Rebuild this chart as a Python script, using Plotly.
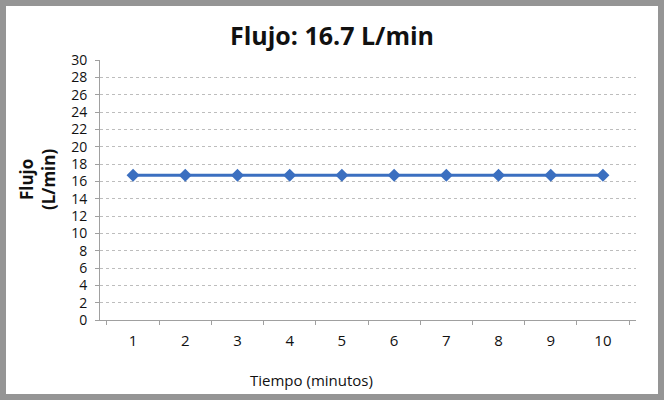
import plotly.graph_objects as go

tiempo = ["1", "2", "3", "4", "5", "6", "7", "8", "9", "10"]
flujo = [16.7, 16.7, 16.7, 16.7, 16.7, 16.7, 16.7, 16.7, 16.7, 16.7]
y_ticks = list(range(0, 31, 2))

L, R, T, B = 100, 28, 60, 80
W, H = 664, 400
pw, ph = W - L - R, H - T - B

fig = go.Figure()
fig.add_trace(go.Scatter(
    x=tiempo, y=flujo, mode="lines+markers",
    line=dict(color="#3b6fc0", width=3),
    marker=dict(symbol="diamond", size=10, color="#3b6fc0"),
    showlegend=False,
))

fig.add_shape(type="rect", xref="paper", yref="paper", layer="below",
              x0=(6 - L) / pw, x1=(W - 6 - L) / pw,
              y0=(T + ph - (H - 6)) / ph, y1=(T + ph - 6) / ph,
              fillcolor="white", line=dict(width=0))

font = "Open Sans, Liberation Sans, sans-serif"
fig.add_annotation(text="Tiempo (minutos)", xref="paper", yref="paper",
                   x=(311 - L) / pw, y=(T + ph - 380) / ph,
                   xanchor="center", yanchor="middle", showarrow=False,
                   font=dict(size=15, family=font, color="#111111"))
fig.add_annotation(text="<b>Flujo<br>(L/min)</b>", xref="paper", yref="paper",
                   x=(37 - L) / pw, y=(T + ph - 180) / ph, textangle=-90,
                   xanchor="center", yanchor="middle", showarrow=False,
                   font=dict(size=17, family=font, color="#111111"))

fig.update_layout(
    width=W, height=H,
    margin=dict(l=L, r=R, t=T, b=B),
    paper_bgcolor="#959595",
    plot_bgcolor="white",
    font=dict(family=font, color="#111111", size=15),
    title=dict(text="<b>Flujo: 16.7 L/min</b>", x=0.5, xanchor="center",
               y=1 - 36 / H, yanchor="middle",
               font=dict(size=25, family=font, color="#111111")),
    xaxis=dict(
        type="category", tickson="boundaries",
        showgrid=False, zeroline=False,
        showline=True, linecolor="#a0a0a0", linewidth=1,
        ticks="outside", ticklen=4, tickcolor="#a0a0a0",
        tickfont=dict(size=15), ticklabelstandoff=7,
    ),
    yaxis=dict(
        range=[0, 30], tickvals=y_ticks,
        showgrid=True, gridcolor="#bdbdbd", griddash="dot", gridwidth=1,
        zeroline=False, showline=True, linecolor="#a0a0a0", linewidth=1,
        ticks="outside", ticklen=4, tickcolor="#a0a0a0",
        tickfont=dict(size=14), ticklabelstandoff=5,
    ),
)

fig.write_html("out.html")
